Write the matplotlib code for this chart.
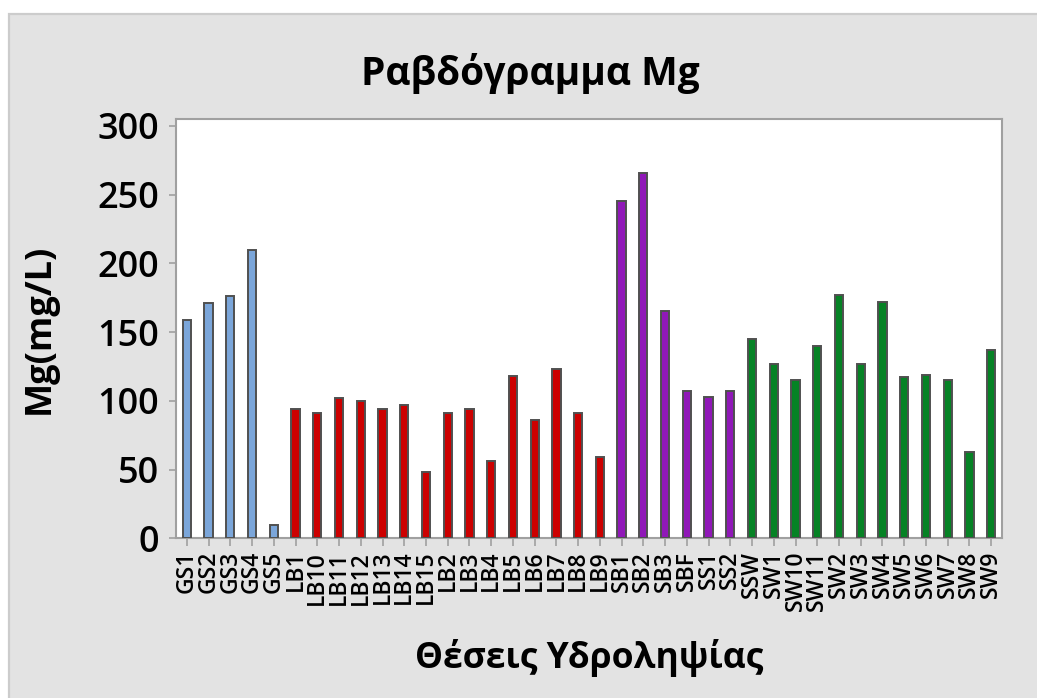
import matplotlib
matplotlib.use("Agg")
import matplotlib.pyplot as plt
from matplotlib.patches import Rectangle

plt.rcParams["font.family"] = ["Open Sans", "DejaVu Sans"]

# Mg concentration per sampling site (mg/L)
gs_sites = ["GS1", "GS2", "GS3", "GS4", "GS5"]
gs_values = [159, 171, 176, 210, 10]

lb_sites = ["LB1", "LB10", "LB11", "LB12", "LB13", "LB14", "LB15", "LB2",
            "LB3", "LB4", "LB5", "LB6", "LB7", "LB8", "LB9"]
lb_values = [94, 91, 102, 100, 94, 97, 48, 91, 94, 56.5, 118, 86, 123, 91, 59]

sb_sites = ["SB1", "SB2", "SB3", "SBF", "SS1", "SS2"]
sb_values = [245, 266, 165, 107, 103, 107]

sw_sites = ["SSW", "SW1", "SW10", "SW11", "SW2", "SW3", "SW4", "SW5",
            "SW6", "SW7", "SW8", "SW9"]
sw_values = [145, 127, 115, 140, 177, 127, 172, 117, 119, 115, 63, 137]

groups = [
    (gs_sites, gs_values, "#7BA6DA"),
    (lb_sites, lb_values, "#CC0000"),
    (sb_sites, sb_values, "#9018B8"),
    (sw_sites, sw_values, "#068225"),
]

y_ticks = [0, 50, 100, 150, 200, 250, 300]

fig = plt.figure(figsize=(10.37, 6.98), dpi=100, facecolor="white")

# grey panel behind the chart
panel = Rectangle((9 / 1037, -0.01), 1.02, (698 - 14) / 698 + 0.01,
                  transform=fig.transFigure, facecolor="#E3E3E3",
                  edgecolor="#CCCCCC", linewidth=1.6, zorder=-10)
fig.patches.append(panel)

ax = fig.add_axes([176 / 1037, 1 - 538.3 / 698, (1002 - 176) / 1037, (538.3 - 119) / 698])
ax.set_zorder(5)
ax.set_facecolor("white")

labels = []
pos = 0
for sites, values, color in groups:
    xs = list(range(pos, pos + len(sites)))
    ax.bar(xs, values, width=0.38, color=color, edgecolor="#505050",
           linewidth=1.4, zorder=3)
    labels.extend(sites)
    pos += len(sites)

ax.set_xlim(-0.5, len(labels) - 0.5)
ax.set_ylim(0, 305)
ax.set_xticks(range(len(labels)))
ax.set_xticklabels(labels, rotation=90, fontsize=16.5, fontweight="semibold")
ax.set_yticks(y_ticks)
ax.set_yticklabels([str(t) for t in y_ticks], fontsize=26, fontweight="semibold")

for s in ax.spines.values():
    s.set_color("#A0A0A0")
    s.set_linewidth(1.5)

ax.tick_params(axis="y", length=5, width=1.2, color="#A0A0A0", pad=7)
ax.tick_params(axis="x", length=6, width=1.2, color="#A0A0A0", pad=3)

fig.text(0.511, 0.895, "Ραβδόγραμμα Mg", ha="center", va="center",
         fontsize=28, fontweight="bold")
ax.set_ylabel("Mg(mg/L)", fontsize=26, fontweight="bold")
ax.yaxis.set_label_coords(-0.143, 0.499)
fig.text((176 + 1002) / 2 / 1037, 1 - 658 / 698, "Θέσεις Υδροληψίας",
         ha="center", va="center", fontsize=25.5, fontweight="bold")

fig.savefig("out.png", dpi=100, facecolor=fig.get_facecolor())
